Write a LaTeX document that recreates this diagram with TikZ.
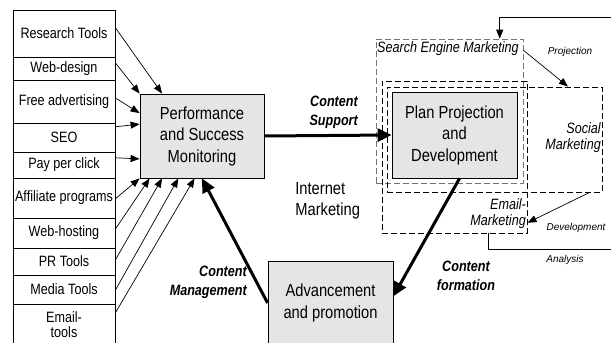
\documentclass[tikz,border=0pt]{standalone}
\usepackage{fontspec}
\setmainfont[FakeStretch=0.84]{Liberation Sans}
\newfontfamily\plainsans{Liberation Sans}
\usepackage{tikz}
\usetikzlibrary{arrows.meta,calc}
\definecolor{boxgray}{gray}{0.9}
\definecolor{dashgray}{gray}{0.45}

\begin{document}
\begin{tikzpicture}[x=1pt,y=-1pt,
	tool/.style={draw,line width=0.8pt,minimum width=102pt,inner sep=0pt,align=center,font=\fontsize{15}{15}\selectfont},
	stage/.style={draw,line width=0.8pt,fill=boxgray,inner sep=0pt,align=center,font=\fontsize{17.5}{21.5}\selectfont},
	semframe/.style={draw=dashgray,line width=0.7pt,dash pattern=on 6pt off 3pt,inner sep=0pt},
	frame/.style={draw,line width=0.95pt,dash pattern=on 6pt off 3pt,inner sep=0pt},
	feed/.style={line width=0.7pt,-{Triangle[length=9pt,width=7pt]}},
	flow/.style={line width=3pt,-{Triangle[length=14pt,width=13pt]}},
	boldlab/.style={inner sep=0pt,font=\fontsize{15}{19}\selectfont\bfseries\itshape},
	itlab/.style={inner sep=0pt,font=\fontsize{15}{16}\selectfont\itshape},
	smalllab/.style={inner sep=0pt,font=\plainsans\fontsize{10}{12}\selectfont\itshape}]
	\useasboundingbox (0,0) rectangle (611,343);

		% tools column
		\node[tool,minimum height=47pt] (rt) at (64,33.5) {Research Tools};
		\node[tool,minimum height=23pt] (wd) at (64,68.5) {Web-design};
		\node[tool,minimum height=43pt] (fa) at (64,101.5) {Free advertising};
		\node[tool,minimum height=29pt] (seo) at (64,137.5) {SEO};
		\node[tool,minimum height=26pt] (ppc) at (64,165) {Pay per click};
		\node[tool,minimum height=40pt] (aff) at (64,198) {Affiliate programs};
		\node[tool,minimum height=30pt] (wh) at (64,233) {Web-hosting};
		\node[tool,minimum height=27pt] (pr) at (64,261.5) {PR Tools};
		\node[tool,minimum height=29pt] (mt) at (64,289.5) {Media Tools};
		\node[tool,minimum height=41pt] (et) at (64,324.5) {Email-\\tools};

		% dashed frames
		\node[semframe,minimum width=147pt,minimum height=144pt] (sem) at (449.5,111) {};
		\node[frame,minimum width=145pt,minimum height=152pt] (email) at (454.5,157) {};
		\node[frame,minimum width=215pt,minimum height=105pt] (social) at (494.5,139.5) {};

		% main stages
		\node[stage,minimum width=124pt,minimum height=84pt] (pm) at (202,136) {Performance\\and Success\\Monitoring};
		\node[stage,minimum width=125pt,minimum height=86pt] (plan) at (454.5,135) {Plan Projection\\and\\Development};
		\node[stage,minimum width=125pt,minimum height=84pt] (adv) at (330.5,303) {Advancement\\and promotion};

		% labels
		\node[boldlab,align=right,anchor=east] (cs) at (358,112) {Content\\Support};
		\node[boldlab,align=right,anchor=east] (cm) at (247,282.5) {Content\\Management};
		\node[boldlab,align=center] (cf) at (466,276) {Content\\formation};
		\node[stage,draw=none,fill=none,align=left,anchor=west] (im) at (295,201) {Internet\\Marketing};
		\node[itlab,anchor=west] (semlab) at (377,49) {Search Engine Marketing};
		\node[itlab,align=right,anchor=east] (smlab) at (601,138) {Social\\Marketing};
		\node[itlab,align=right,anchor=east] (emlab) at (526,214) {Email-\\Marketing};
		\node[smalllab] (proj) at (570,52) {Projection};
		\node[smalllab] (dev) at (576,228) {Development};
		\node[smalllab] (ana) at (565,260) {Analysis};

		% tools into monitoring
		\draw[feed] ($(rt.north east)!.38!(rt.south east)$) to ($(pm.north west)!.18!(pm.north east)$);
		\draw[feed] ($(wd.north east)!.26!(wd.south east)$) to (pm.north west);
		\draw[feed] ($(fa.north east)!.42!(fa.south east)$) to ($(pm.north west)!.23!(pm.south west)$);
		\draw[feed] ($(seo.north east)!.14!(seo.south east)$) to ($(pm.north west)!.36!(pm.south west)$);
		\draw[feed] ($(ppc.north east)!.23!(ppc.south east)$) to ($(pm.north west)!.77!(pm.south west)$);
		\draw[feed] ($(aff.north east)!.52!(aff.south east)$) to (pm.south west);
		\draw[feed] ($(wh.north east)!.37!(wh.south east)$) to ($(pm.south west)!.08!(pm.south east)$);
		\draw[feed] ($(pr.north east)!.44!(pr.south east)$) to ($(pm.south west)!.18!(pm.south east)$);
		\draw[feed] ($(mt.north east)!.52!(mt.south east)$) to ($(pm.south west)!.31!(pm.south east)$);
		\draw[feed] ($(et.north east)!.22!(et.south east)$) to ($(pm.south west)!.44!(pm.south east)$);

		% main cycle
		\draw[flow] (pm.east) to (plan.west);
		\draw[flow] ($(plan.south west)!.54!(plan.south east)$) to ($(adv.north east)!.42!(adv.south east)$);
		\draw[flow] (adv.west) to (pm.south);

		% marketing loop
		\coordinate (topR) at (611,17);
		\coordinate (botR) at (611,249);
		\draw[feed] (topR) -| ($(sem.north west)!.84!(sem.north east)$);
		\draw[feed] ($(sem.north east)!.08!(sem.south east)$) to ($(social.north west)!.84!(social.north east)$);
		\draw[feed] ($(social.south west)!.94!(social.south east)$) to ($(email.north east)!.93!(email.south east)$);
		\draw[line width=0.7pt] ($(email.south west)!.73!(email.south east)$) |- (botR);
\end{tikzpicture}
\end{document}
